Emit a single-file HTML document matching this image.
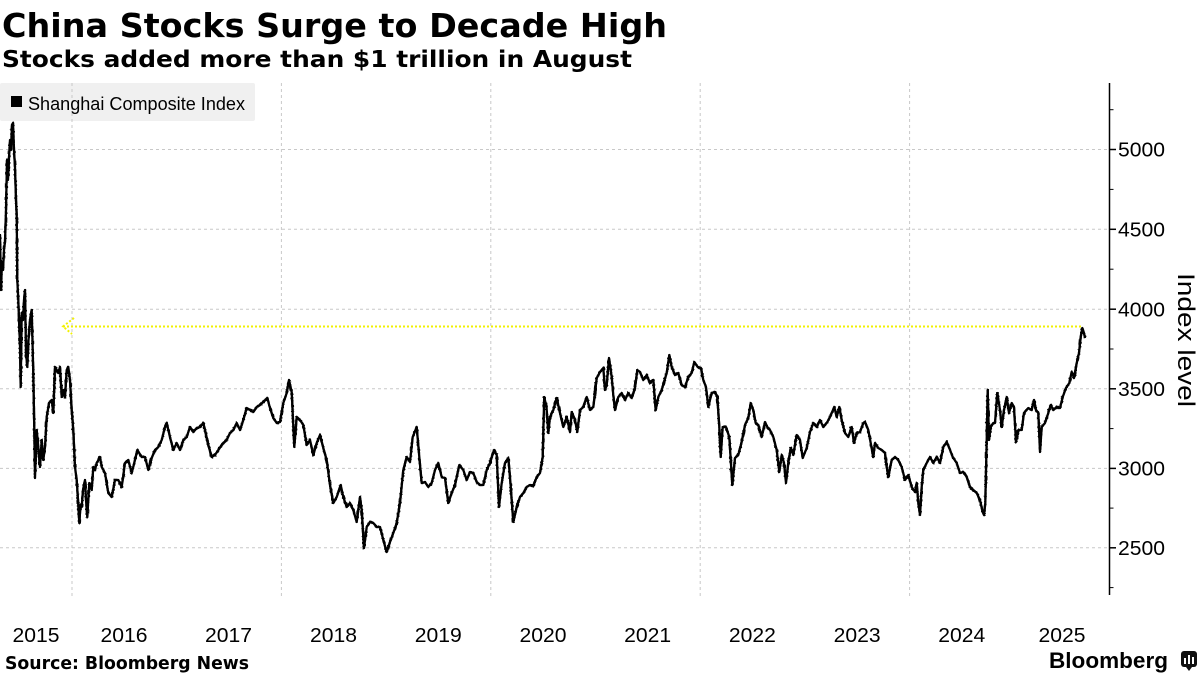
<!DOCTYPE html>
<html>
<head>
<meta charset="utf-8">
<style>
  html,body{margin:0;padding:0;background:#fff;}
  body{width:1200px;height:675px;overflow:hidden;}
  svg{display:block;}
</style>
</head>
<body>
<svg width="1200" height="675" viewBox="0 0 1200 675" xmlns="http://www.w3.org/2000/svg">
  <defs>
    <filter id="jit" x="-2%" y="-5%" width="104%" height="110%">
      <feTurbulence type="fractalNoise" baseFrequency="0.45" numOctaves="1" seed="3" result="n"/>
      <feDisplacementMap in="SourceGraphic" in2="n" scale="3" xChannelSelector="R" yChannelSelector="G"/>
    </filter>
  </defs>
  <rect x="0" y="0" width="1200" height="675" fill="#fff"/>

  <!-- Title & subtitle -->
  <text x="2" y="37" font-family="'DejaVu Sans','Liberation Sans',sans-serif" font-weight="bold" font-size="33" fill="#000" textLength="665" lengthAdjust="spacingAndGlyphs">China Stocks Surge to Decade High</text>
  <text x="2" y="67" font-family="'DejaVu Sans','Liberation Sans',sans-serif" font-weight="bold" font-size="23" fill="#000" textLength="630" lengthAdjust="spacingAndGlyphs">Stocks added more than $1 trillion in August</text>

  <!-- Legend background -->
  <rect x="0" y="83" width="255" height="38" rx="2" fill="#f0f0f0"/>

  <!-- Horizontal gridlines -->
  <g stroke="#c8c8c8" stroke-width="1" stroke-dasharray="3,3">
    <line x1="0" y1="149.5" x2="1109" y2="149.5"/>
    <line x1="0" y1="229.3" x2="1109" y2="229.3"/>
    <line x1="0" y1="309.2" x2="1109" y2="309.2"/>
    <line x1="0" y1="388.8" x2="1109" y2="388.8"/>
    <line x1="0" y1="468.4" x2="1109" y2="468.4"/>
    <line x1="0" y1="547.8" x2="1109" y2="547.8"/>
  </g>
  <!-- Vertical gridlines -->
  <g stroke="#c8c8c8" stroke-width="1" stroke-dasharray="3,3">
    <line x1="72" y1="83" x2="72" y2="597"/>
    <line x1="281.4" y1="83" x2="281.4" y2="597"/>
    <line x1="490.8" y1="83" x2="490.8" y2="597"/>
    <line x1="700.2" y1="83" x2="700.2" y2="597"/>
    <line x1="909.6" y1="83" x2="909.6" y2="597"/>
  </g>

  <!-- Legend -->
  <rect x="11" y="96" width="11" height="11" fill="#000"/>
  <text x="28" y="110" font-family="'Liberation Sans',sans-serif" font-size="18" fill="#000" textLength="217" lengthAdjust="spacingAndGlyphs">Shanghai Composite Index</text>

  <!-- Y axis -->
  <line x1="1109.5" y1="83" x2="1109.5" y2="595" stroke="#000" stroke-width="1.5"/>
  <g stroke="#000" stroke-width="1.5">
    <line x1="1109.5" y1="149.5" x2="1116" y2="149.5"/>
    <line x1="1109.5" y1="229.3" x2="1116" y2="229.3"/>
    <line x1="1109.5" y1="309.2" x2="1116" y2="309.2"/>
    <line x1="1109.5" y1="388.8" x2="1116" y2="388.8"/>
    <line x1="1109.5" y1="468.4" x2="1116" y2="468.4"/>
    <line x1="1109.5" y1="547.8" x2="1116" y2="547.8"/>
  </g>
  <g stroke="#000" stroke-width="1">
    <line x1="1109.5" y1="109.7" x2="1113.5" y2="109.7"/>
    <line x1="1109.5" y1="189.4" x2="1113.5" y2="189.4"/>
    <line x1="1109.5" y1="269.2" x2="1113.5" y2="269.2"/>
    <line x1="1109.5" y1="349" x2="1113.5" y2="349"/>
    <line x1="1109.5" y1="428.6" x2="1113.5" y2="428.6"/>
    <line x1="1109.5" y1="508.1" x2="1113.5" y2="508.1"/>
    <line x1="1109.5" y1="587.6" x2="1113.5" y2="587.6"/>
  </g>
  <g font-family="'Liberation Sans',sans-serif" font-size="20" fill="#000">
    <text x="1118" y="156.7" textLength="47" lengthAdjust="spacingAndGlyphs">5000</text>
    <text x="1118" y="236.5" textLength="47" lengthAdjust="spacingAndGlyphs">4500</text>
    <text x="1118" y="316.4" textLength="47" lengthAdjust="spacingAndGlyphs">4000</text>
    <text x="1118" y="396" textLength="47" lengthAdjust="spacingAndGlyphs">3500</text>
    <text x="1118" y="475.6" textLength="47" lengthAdjust="spacingAndGlyphs">3000</text>
    <text x="1118" y="555" textLength="47" lengthAdjust="spacingAndGlyphs">2500</text>
  </g>
  <text transform="translate(1178,340) rotate(90)" x="0" y="0" text-anchor="middle" font-family="'Liberation Sans',sans-serif" font-size="24" fill="#000" textLength="134" lengthAdjust="spacingAndGlyphs">Index level</text>

  <!-- X axis labels -->
  <g font-family="'Liberation Sans',sans-serif" font-size="20" fill="#000" text-anchor="middle">
    <text x="36" y="642" textLength="47" lengthAdjust="spacingAndGlyphs">2015</text>
    <text x="124" y="642" textLength="47" lengthAdjust="spacingAndGlyphs">2016</text>
    <text x="228.5" y="642" textLength="47" lengthAdjust="spacingAndGlyphs">2017</text>
    <text x="333.5" y="642" textLength="47" lengthAdjust="spacingAndGlyphs">2018</text>
    <text x="438.3" y="642" textLength="47" lengthAdjust="spacingAndGlyphs">2019</text>
    <text x="543" y="642" textLength="47" lengthAdjust="spacingAndGlyphs">2020</text>
    <text x="647.7" y="642" textLength="47" lengthAdjust="spacingAndGlyphs">2021</text>
    <text x="752.4" y="642" textLength="47" lengthAdjust="spacingAndGlyphs">2022</text>
    <text x="857.1" y="642" textLength="47" lengthAdjust="spacingAndGlyphs">2023</text>
    <text x="961.8" y="642" textLength="47" lengthAdjust="spacingAndGlyphs">2024</text>
    <text x="1062" y="642" textLength="47" lengthAdjust="spacingAndGlyphs">2025</text>
  </g>

  <!-- Yellow reference line -->
  <g stroke="#f2f200" stroke-width="2" fill="none" stroke-dasharray="2,2">
    <line x1="63" y1="326.5" x2="1082" y2="326.5"/>
    <polyline points="74,318 63,326.5 72,334"/>
  </g>

  <!-- Series -->
  <polyline id="ser" fill="none" stroke="#000" stroke-width="2.3" stroke-linejoin="round" points="
0,235 1,290 2,262 3,270 4,250 5,242 6,210 7,160 8,180 9,158 10,140 11,150 12,125 13,123 14,150 15,167 16,200 16.7,215 17.3,280 18.3,300 19,320 20,345 20.7,387 21.7,313 23,320 24,300 25,290 26,353 27.3,367 28.5,340 30,320 31.7,310 33.3,373 34.3,430 35,478 36.7,430 38.3,447 40,467 41.7,440 43.3,460 45,447 46.7,417 49,403 51.7,400 53.3,413 55,367 56.7,370 58.3,373 60,367 61.7,397 63.3,390 65,397 66.7,370 68.3,367 70,380 71.7,410 73.3,430 75,467 76.7,480 78,500 79.3,523 80.5,505 81.7,507 83,490 85,480 86,500 87.3,517 89.3,483 91.7,490 93.3,467 95,470 96.7,463 100,457 101.7,467 105,473 108.3,493 111.7,497 115,480 118.3,480 121.7,487 125,463 128.3,460 131.7,473 135,460 137.3,450 141.7,457 145,457 148.3,470 151.7,458 155,450 158.3,447 161.7,440 165,427 166.7,423 170,437 173.3,450 176.7,443 180,450 183.3,440 186.7,437 190,427 193.3,432 196.7,428 200,427 203.3,423 205,430 208.3,445 211.7,457 215,455 218.3,450 221.7,445 226.7,440 230,433 233.3,430 236.7,423 240,430 243.3,420 246.7,408 250,410 253.3,412 256.7,407 260,405 263.3,402 267.3,398 270,408 273.3,418 276.7,423 280,422 283.3,403 286.7,393 289,380 291.7,392 294.3,447 296.7,417 300,420 303.3,425 306.7,445 310,440 313.3,455 316.7,443 320,435 323.3,448 326.7,460 330,485 333.3,503 336.7,497 340.7,485 343.3,497 346.7,507 350,503 353.3,510 356.7,522 360,497 361.7,510 364,548 366.7,527 370,522 373.3,523 376.7,527 380,527 383.3,540 386.7,552 390,542 393.3,533 396.7,523 400,503 403.3,470 406.7,457 410,462 412.7,437 416.7,427 419.3,457 421.7,483 425,482 428.3,487 431.7,483 435,470 438.3,463 441.7,477 445,478 448.3,503 451.7,493 455,485 459.3,465 463.3,470 466.7,480 470,472 473.3,473 476.7,482 480,485 483.3,485 486.7,470 490,463 494,450 496.7,455 499,507 501.7,483 505,463 508.3,458 510,477 513.3,522 516.7,507 520,497 523.3,493 526.7,487 530,485 533.3,486 536.7,477 540,473 542.7,457 544.2,397 546.5,407 548.3,433 550,417 553.3,410 556.7,398 560,413 563.3,427 566.7,417 570,432 571.7,412 575,420 577.3,432 580,410 583.3,407 586.7,397 590,410 593.3,407 596.7,378 600,372 603.3,368 605,390 606.7,385 609,358 611.7,377 613.3,395 615,410 618.3,397 621.7,393 625,400 628.3,393 631.7,398 635,388 637.3,370 640,372 643.3,380 646.7,375 650,383 653.3,380 655.7,410 658.3,397 661.7,390 664,382 666.7,373 669.3,355 671.7,367 675,375 678.3,373 681.7,385 685,387 688.3,377 691.7,373 694.3,362 697.7,367 701,368 703.3,380 706,387 708.3,407 711.7,393 715,392 717.3,397 719.3,427 720.7,457 722.7,427 726,427 729.3,437 732.3,485 735,458 738.3,455 741.7,442 745,425 748.3,418 750.7,403 753.3,410 755.7,423 758.3,425 761.7,437 765,422 767.3,427 770,430 773.3,437 776.7,450 779.3,472 781.7,455 784,463 786,483 788.3,463 790.7,448 793.3,455 796.7,435 800,440 802.7,458 806.7,448 810,432 813.3,423 816.7,427 820,420 823.3,427 826.7,423 830,417 834.3,407 836.7,417 839.3,407 841.7,420 845,433 848.3,437 851.7,427 854,443 856.7,433 860,432 863.3,423 865,422 868.3,430 870.7,443 873.3,457 875,443 878.3,448 881.7,450 885,453 886.7,467 888.3,477 891.7,460 895,457 898.3,460 901.7,467 905,480 908.3,475 911.7,487 915,492 916.7,483 918.3,503 920,515 921.7,487 923.3,470 926.7,463 930,457 933.3,463 936.7,457 940,463 943.3,447 946.7,442 949.3,448 952.7,457 956.7,463 960,473 963.3,472 966.7,477 970,487 973.3,490 976.7,493 980,500 982.7,512 984,515 985.3,503 986.7,440 987.7,390 989,440 990.7,427 993.3,423 995,423 997.3,393 1000,410 1001.7,427 1004,410 1006.7,397 1009,413 1011.7,403 1014,407 1016,442 1018.3,430 1021.7,430 1024,413 1028.3,408 1031.7,410 1034,400 1036,410 1038.3,413 1040,452 1041.7,427 1045,423 1048.3,413 1050.7,405 1053.3,410 1056.7,407 1060,408 1062.7,397 1066,388 1069.3,383 1071.7,372 1074,378 1076.7,363 1079,353 1080.7,337 1082.3,328 1084,333 1085,338"/>
  <g filter="url(#jit)">
    <use href="#ser"/>
  </g>

  <!-- Footer -->
  <text x="5" y="669" font-family="'DejaVu Sans','Liberation Sans',sans-serif" font-weight="bold" font-size="18" fill="#000" textLength="244" lengthAdjust="spacingAndGlyphs">Source: Bloomberg News</text>
  <text x="1049" y="668" font-family="'Liberation Sans',sans-serif" font-weight="bold" font-size="22" fill="#000" textLength="119" lengthAdjust="spacingAndGlyphs">Bloomberg</text>
  <g>
    <rect x="1181" y="651" width="16" height="16" rx="3" fill="#111"/>
    <polygon points="1186,667 1189,671 1192,667" fill="#111"/>
    <rect x="1184" y="658" width="2" height="6" fill="#fff"/>
    <rect x="1188" y="655" width="2" height="9" fill="#fff"/>
    <rect x="1192" y="657" width="2" height="7" fill="#fff"/>
  </g>
</svg>
</body>
</html>
